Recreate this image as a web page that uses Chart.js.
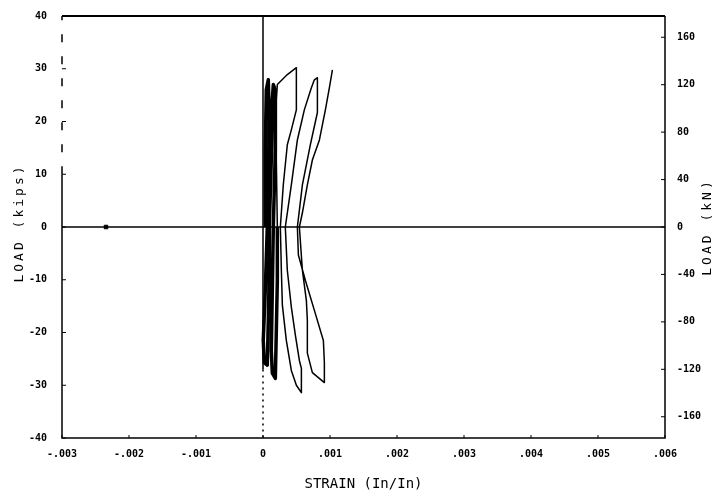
<!DOCTYPE html>
<html>
<head>
<meta charset="utf-8">
<script src="https://cdn.jsdelivr.net/npm/chart.js@4.4.1/dist/chart.umd.min.js"></script>
<style>
  html, body { margin: 0; padding: 0; background: #fff; }
</style>
</head>
<body>
<canvas id="loadStrain" width="717" height="502"></canvas>
<script>
(function() {
    'use strict';

    // axis ticks
    const strainTicks = [-0.003, -0.002, -0.001, 0, 0.001, 0.002, 0.003, 0.004, 0.005, 0.006];
    const loadTicks = [-40, -30, -20, -10, 0, 10, 20, 30, 40];
    const kNTicks = [-160, -120, -80, -40, 0, 40, 80, 120, 160];
    const KIP_TO_KN = 4.448;

    // strain in microstrain, load in kips
    const innerStrain = [34, 34, 49, 79, 94, 79, 64, 34, 4, 19, 64, 79, 94, 94, 124, 139, 154, 184, 184, 154, 139, 124, 139, 184, 199, 214, 214];
    const innerLoad = [0, 14.6, 26.0, 27.9, 20.3, 8.9, 0, -12.0, -21.5, -25.7, -26.2, -17.7, -8.2, 0, 12.7, 24.1, 27.0, 26.0, 14.6, 0, -12.0, -23.4, -27.7, -28.7, -19.6, -10.1, 0];

    const cycleStrain = [
        214, 199, 199, 214, 363, 498, 498, 498, 423, 363, 303, 259, 274, 289, 348, 423, 498, 573, 573, 543, 483, 423, 363, 333,
        423, 513, 617, 722, 767, 812, 812, 812, 707, 588, 513, 528, 632, 767, 901, 916, 916, 737, 662, 662, 647, 588, 543,
        588, 662, 737, 842, 931, 991, 1036
    ];
    const cycleLoad = [
        0, 12.7, 24.1, 27.0, 28.9, 30.2, 26.0, 22.2, 18.4, 15.6, 8.0, 0, -8.2, -14.8, -21.5, -27.2, -30.0, -31.4, -26.8, -25.3, -20.5, -15.2, -8.2, 0,
        8.0, 16.5, 22.2, 26.4, 27.9, 28.3, 25.1, 21.7, 15.6, 8.0, 0, -5.3, -10.1, -15.8, -21.5, -25.7, -29.5, -27.6, -23.9, -17.7, -13.9, -8.2, 0,
        2.7, 8.0, 12.7, 16.5, 22.2, 26.4, 29.8
    ];

    const markerStrain = [-2343];
    const markerLoad = [0];

    function toPoints(strain, load) {
        return strain.map(function(s, i) { return { x: s / 1e6, y: load[i] }; });
    }

    function fmtStrain(v) {
        if (Math.abs(v) < 1e-9) return '0';
        return v.toFixed(3).replace('0.', '.');
    }

    // fixed axis boxes, no extra label padding
    function fixBox(w, h) {
        return function(s) {
            if (w) s.width = w;
            if (h) s.height = h;
            s.paddingTop = 0; s.paddingBottom = 0;
            s.paddingLeft = 0; s.paddingRight = 0;
        };
    }

    const MONO = '"DejaVu Sans Mono", monospace';

    function sideTitle(ctx, text, cx, cy) {
        ctx.save();
        ctx.fillStyle = '#000';
        ctx.font = '13px ' + MONO;
        ctx.letterSpacing = '3px';
        ctx.textAlign = 'center';
        ctx.textBaseline = 'middle';
        ctx.translate(cx, cy);
        ctx.rotate(-Math.PI / 2);
        ctx.fillText(text, 0, 0);
        ctx.restore();
    }

    const framePlugin = {
        id: 'frame',
        beforeDatasetsDraw: function(chart) {
            const ctx = chart.ctx;
            const a = chart.chartArea;
            const x = chart.scales.x, y = chart.scales.y, y2 = chart.scales.y2;
            ctx.save();
            ctx.strokeStyle = '#000';
            ctx.lineWidth = 2;
            ctx.beginPath();
            ctx.moveTo(a.left, a.top); ctx.lineTo(a.right, a.top);
            ctx.stroke();
            ctx.lineWidth = 1.5;
            ctx.beginPath();
            ctx.moveTo(a.right, a.top); ctx.lineTo(a.right, a.bottom);
            ctx.lineTo(a.left, a.bottom);
            ctx.lineTo(a.left, y.getPixelForValue(10));
            ctx.stroke();
            // upper part of the left edge is broken
            ctx.setLineDash([8, 14]);
            ctx.beginPath();
            ctx.moveTo(a.left, y.getPixelForValue(10)); ctx.lineTo(a.left, a.top);
            ctx.stroke();
            ctx.setLineDash([]);
            // inside ticks
            ctx.lineWidth = 1;
            ctx.beginPath();
            loadTicks.forEach(function(v) {
                const p = y.getPixelForValue(v);
                ctx.moveTo(a.left, p); ctx.lineTo(a.left + 4, p);
            });
            kNTicks.forEach(function(v) {
                const p = y2.getPixelForValue(v);
                ctx.moveTo(a.right, p); ctx.lineTo(a.right - 4, p);
            });
            strainTicks.forEach(function(v) {
                const p = x.getPixelForValue(v);
                ctx.moveTo(p, a.bottom); ctx.lineTo(p, a.bottom - 3);
            });
            ctx.stroke();
            ctx.restore();
        },
        afterDraw: function(chart) {
            const a = chart.chartArea;
            const mid = (a.top + a.bottom) / 2;
            sideTitle(chart.ctx, 'LOAD (kips)', 20, mid - 4);
            sideTitle(chart.ctx, 'LOAD (kN)', chart.width - 9, mid);
        }
    };

    const tickFont = { family: MONO, size: 10, weight: 'bold' };

    new Chart(document.getElementById('loadStrain').getContext('2d'), {
        type: 'scatter',
        data: {
            datasets: [
                {
                    data: [{ x: -0.003, y: 0 }, { x: 0.006, y: 0 }],
                    showLine: true, borderColor: '#000', borderWidth: 1.5, pointRadius: 0
                },
                {
                    data: [{ x: 0, y: 40 }, { x: 0, y: -27 }],
                    showLine: true, borderColor: '#000', borderWidth: 1.5, pointRadius: 0
                },
                {
                    data: [{ x: 0, y: -27 }, { x: 0, y: -40 }],
                    showLine: true, borderColor: '#000', borderWidth: 1.5, borderDash: [2, 4], pointRadius: 0
                },
                {
                    data: toPoints(innerStrain, innerLoad),
                    showLine: true, borderColor: '#000', borderWidth: 3.5, pointRadius: 0,
                    borderJoinStyle: 'round'
                },
                {
                    data: toPoints(cycleStrain, cycleLoad),
                    showLine: true, borderColor: '#000', borderWidth: 1.5, pointRadius: 0,
                    borderJoinStyle: 'round'
                },
                {
                    data: toPoints(markerStrain, markerLoad),
                    showLine: false, pointStyle: 'rect', pointRadius: 2.5,
                    backgroundColor: '#000', borderColor: '#000'
                }
            ]
        },
        options: {
            responsive: false,
            animation: false,
            layout: { padding: { top: 16, left: 0, right: 0, bottom: 0 } },
            plugins: {
                legend: { display: false },
                tooltip: { enabled: false }
            },
            scales: {
                x: {
                    type: 'linear', position: 'bottom',
                    min: -0.003, max: 0.006,
                    afterBuildTicks: function(s) { s.ticks = strainTicks.map(function(v) { return { value: v }; }); },
                    afterFit: fixBox(0, 64),
                    grid: { display: false, drawTicks: false },
                    border: { display: false },
                    ticks: {
                        autoSkip: false, maxRotation: 0, minRotation: 0, padding: 10,
                        color: '#000', font: tickFont, callback: fmtStrain
                    },
                    title: {
                        display: true, text: 'STRAIN (In/In)', color: '#000',
                        font: { family: MONO, size: 14 }, padding: { top: 0, bottom: 9 }
                    }
                },
                y: {
                    type: 'linear', position: 'left',
                    min: -40, max: 40,
                    afterBuildTicks: function(s) { s.ticks = loadTicks.map(function(v) { return { value: v }; }); },
                    afterFit: fixBox(62, 0),
                    grid: { display: false, drawTicks: false },
                    border: { display: false },
                    ticks: { padding: 15, color: '#000', font: tickFont }
                },
                y2: {
                    type: 'linear', position: 'right',
                    min: -40 * KIP_TO_KN, max: 40 * KIP_TO_KN,
                    afterBuildTicks: function(s) { s.ticks = kNTicks.map(function(v) { return { value: v }; }); },
                    afterFit: fixBox(52, 0),
                    grid: { display: false, drawTicks: false },
                    border: { display: false },
                    ticks: { padding: 12, color: '#000', font: tickFont }
                }
            }
        },
        plugins: [framePlugin]
    });
})();
</script>
</body>
</html>
